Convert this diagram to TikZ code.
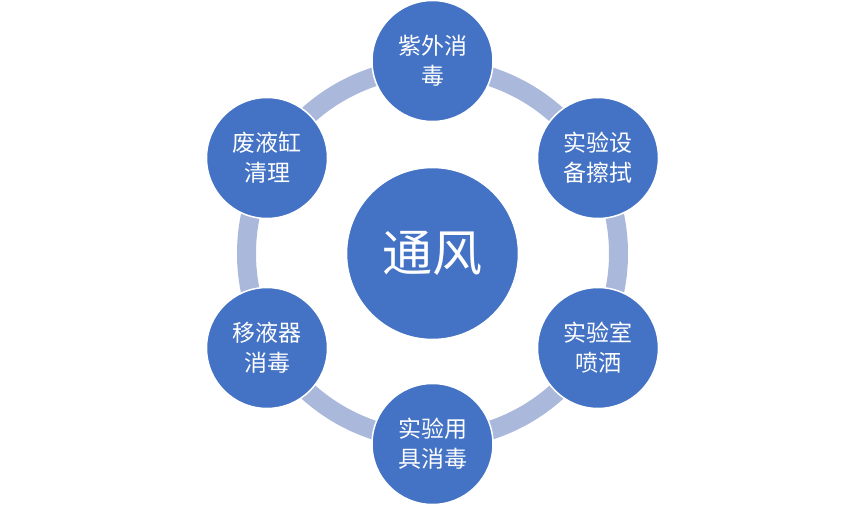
\documentclass[tikz,border=0pt]{standalone}
\usepackage{fontspec}
\setmainfont{Noto Sans CJK SC}
\definecolor{nodeblue}{HTML}{4472C4}
\definecolor{ringblue}{HTML}{AAB8DC}
\begin{document}
\begin{tikzpicture}[x=1pt,y=1pt,
  outer/.style={circle,fill=nodeblue,draw=white,line width=1.5pt,minimum size=121pt,inner sep=0pt,
    text=white,font=\fontsize{23}{30}\selectfont,align=center},
  hub/.style={circle,fill=nodeblue,draw=white,line width=1.5pt,minimum size=172pt,inner sep=0pt,
    text=white,font=\fontsize{50}{56}\selectfont}]
\useasboundingbox (0,0) rectangle (865,-508);
\coordinate (o) at (432.5,-253.5);
\draw[ringblue,line width=19pt] (o) circle (186);
\node[hub] (c) at (o) {通风};
\node[outer] (n1) at (432.5,-61) {紫外消\\毒};
\node[outer] (n2) at (598,-158) {实验设\\备擦拭};
\node[outer] (n3) at (598,-348) {实验室\\喷洒};
\node[outer] (n4) at (432.5,-444) {实验用\\具消毒};
\node[outer] (n5) at (267,-348) {移液器\\消毒};
\node[outer] (n6) at (267,-158) {废液缸\\清理};
\end{tikzpicture}
\end{document}
